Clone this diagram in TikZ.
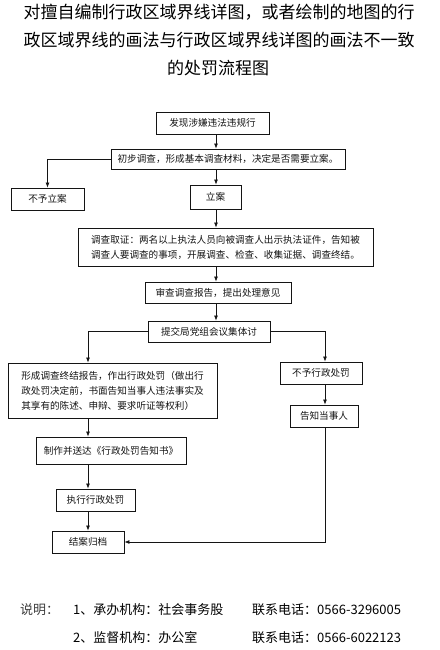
\documentclass[tikz,border=0pt]{standalone}
\usepackage{fontspec}
\setmainfont{Noto Sans CJK SC}
\usepackage{xcolor}
\usetikzlibrary{arrows.meta,calc}
\definecolor{flowInk}{RGB}{20,20,20}
\definecolor{noteGray}{RGB}{60,60,60}

\begin{document}
\begin{tikzpicture}[x=1pt,y=-1pt,
    flowbox/.style={draw=flowInk, line width=0.9pt, inner sep=0pt, text=flowInk,
        font=\fontsize{9.6}{15}\selectfont},
    flowline/.style={draw=flowInk, line width=0.7pt},
    flowarrow/.style={flowline, -{Latex[length=5pt,width=4pt]}},
    titletext/.style={font=\fontsize{17}{28}\selectfont, text=black},
    notetext/.style={anchor=west, inner sep=0pt, font=\fontsize{13}{16}\selectfont, text=black}]

\useasboundingbox (0,0) rectangle (439,650);

% =========================
% 1. title
% =========================
\node[titletext] (titleA) at (219,12) {对擅自编制行政区域界线详图，或者绘制的地图的行};
\node[titletext] (titleB) at (219,40) {政区域界线的画法与行政区域界线详图的画法不一致};
\node[titletext] (titleC) at (218,68) {的处罚流程图};

% =========================
% 2. boxes
% =========================
\node[flowbox, minimum width=113, minimum height=22] (found) at (212.5,123) {发现涉嫌违法违规行};
\node[flowbox, minimum width=234, minimum height=20] (prelim) at (228,159) {初步调查，形成基本调查材料，决定是否需要立案。};
\node[flowbox, minimum width=73, minimum height=22] (noCase) at (47.5,199) {不予立案};
\node[flowbox, minimum width=51, minimum height=24] (fileCase) at (215.5,197) {立案};
\node[flowbox, minimum width=295, minimum height=38, align=left] (investigate) at (225.5,247)
    {调查取证：两名以上执法人员向被调查人出示执法证件，告知被\\调查人要调查的事项，开展调查、检查、收集证据、调查终结。};
\node[flowbox, minimum width=146, minimum height=21] (review) at (218,292.5) {审查调查报告，提出处理意见};
\node[flowbox, minimum width=122, minimum height=21] (discuss) at (209,331.5) {提交局党组会议集体讨};

% left branch
\node[flowbox, minimum width=209, minimum height=55, align=left] (report) at (112.5,390.5)
    {形成调查终结报告，作出行政处罚（做出行\\政处罚决定前，书面告知当事人违法事实及\\其享有的陈述、申辩、要求听证等权利）};
\node[flowbox, minimum width=150, minimum height=27] (notice) at (111,450.5) {制作并送达《行政处罚告知书》};
\node[flowbox, minimum width=79, minimum height=22] (execute) at (95.5,500) {执行行政处罚};
\node[flowbox, minimum width=72, minimum height=22] (archive) at (88,542) {结案归档};

% right branch
\node[flowbox, minimum width=82, minimum height=22] (noPenalty) at (321,373) {不予行政处罚};
\node[flowbox, minimum width=68, minimum height=22] (informParty) at (324,416) {告知当事人};

% =========================
% 3. connectors
% =========================
\coordinate (mainSpine) at (216,0);
\coordinate (leftSpine) at (88,0);
\coordinate (rightSpine) at (325,0);

\draw[flowarrow] (found.south -| mainSpine) -- (prelim.north -| mainSpine);
\draw[flowarrow] (prelim.west) -| (noCase.north);
\draw[flowarrow] (prelim.south -| mainSpine) -- (fileCase.north -| mainSpine);
\draw[flowarrow] (fileCase.south -| mainSpine) -- (investigate.north -| mainSpine);
\draw[flowarrow] (investigate.south -| mainSpine) -- (review.north -| mainSpine);
\draw[flowarrow] (review.south -| mainSpine) -- (discuss.north -| mainSpine);

\draw[flowarrow] (discuss.west) -| (report.north -| leftSpine);
\draw[flowarrow] (report.south -| leftSpine) -- (notice.north -| leftSpine);
\draw[flowarrow] (notice.south -| leftSpine) -- (execute.north -| leftSpine);
\draw[flowarrow] (execute.south -| leftSpine) -- (archive.north -| leftSpine);

\draw[flowarrow] (discuss.east) -| (noPenalty.north -| rightSpine);
\draw[flowarrow] (noPenalty.south -| rightSpine) -- (informParty.north -| rightSpine);
\draw[flowarrow] (informParty.south -| rightSpine) |- (archive.east);

% =========================
% 4. notes
% =========================
\node[notetext, text=noteGray] (noteHead) at (20,610) {说明：};
\node[notetext] (noteOne) at (73,610) {1、承办机构：社会事务股};
\node[notetext] (phoneOne) at (252,610) {联系电话：0566-3296005};
\node[notetext] (noteTwo) at (73,638) {2、监督机构：办公室};
\node[notetext] (phoneTwo) at (252,638) {联系电话：0566-6022123};

\end{tikzpicture}
\end{document}
